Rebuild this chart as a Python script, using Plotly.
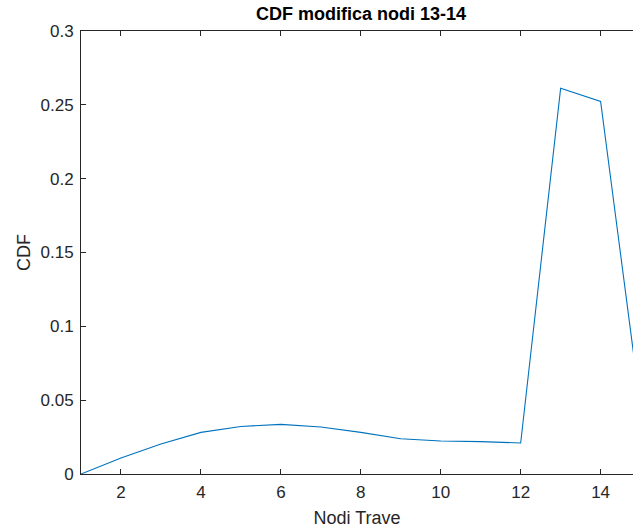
import plotly.graph_objects as go

nodes = [1, 2, 3, 4, 5, 6, 7, 8, 9, 10, 11, 12, 13, 14, 15]
cdf = [0.0, 0.0108, 0.0203, 0.0282, 0.0322, 0.0336, 0.0318, 0.0282, 0.0239,
       0.0223, 0.0219, 0.0210, 0.2613, 0.2523, 0.045]

x_ticks = [2, 4, 6, 8, 10, 12, 14]
y_ticks = [0, 0.05, 0.1, 0.15, 0.2, 0.25, 0.3]
y_labels = ["0", "0.05", "0.1", "0.15", "0.2", "0.25", "0.3"]

axis_color = "#262626"
font_family = "Liberation Sans, Arial, sans-serif"

W, H = 633, 528

fig = go.Figure()
fig.add_trace(go.Scatter(x=nodes, y=cdf, mode="lines",
                         line=dict(color="#0072BD", width=1.1),
                         showlegend=False, cliponaxis=True, hoverinfo="skip"))

fig.update_layout(
    width=W, height=H,
    margin=dict(l=81, r=0, t=31, b=54),
    paper_bgcolor="white", plot_bgcolor="white",
    font=dict(family=font_family, color=axis_color, size=17),
    title=dict(text="<b>CDF modifica nodi 13-14</b>", x=361 / W, xanchor="center",
               y=1 - 14 / H, yanchor="middle",
               font=dict(size=18, color="black", family=font_family)),
)
fig.update_xaxes(range=[1, 14.81], tickvals=x_ticks, ticks="inside", ticklen=5,
                 tickcolor=axis_color, showline=True, linecolor=axis_color,
                 linewidth=1, mirror="ticks", showgrid=False, zeroline=False,
                 ticklabelstandoff=3,
                 tickfont=dict(size=17, color=axis_color),
                 title=dict(text="Nodi Trave", font=dict(size=18, color=axis_color),
                            standoff=9))
fig.update_yaxes(range=[0, 0.3], tickvals=y_ticks, ticktext=y_labels,
                 ticks="inside", ticklen=5, tickcolor=axis_color, showline=True,
                 linecolor=axis_color, linewidth=1, mirror=False, showgrid=False,
                 zeroline=False, ticklabelstandoff=3,
                 tickfont=dict(size=17, color=axis_color),
                 title=dict(text="CDF", font=dict(size=18, color=axis_color),
                            standoff=5))

fig.write_html("out.html",
               config={"displayModeBar": False, "staticPlot": True},
               post_script="document.body.style.margin='0';"
                           "document.body.style.overflow='hidden';")
